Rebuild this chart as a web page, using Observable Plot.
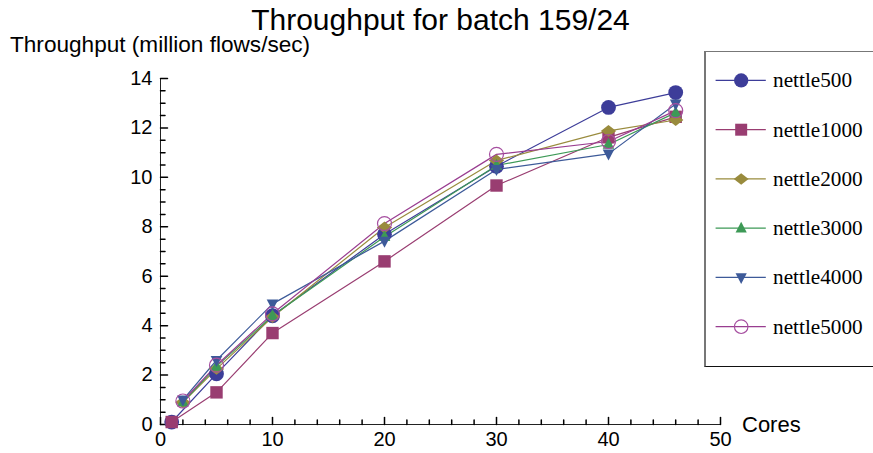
<!DOCTYPE html>
<html><head><meta charset="utf-8">
<script src="https://cdn.jsdelivr.net/npm/d3@7"></script>
<script src="https://cdn.jsdelivr.net/npm/@observablehq/plot@0.6"></script>
<style>
body{margin:0;background:#fff;}
#wrap{position:relative;width:873px;height:453px;overflow:hidden;font-family:"Liberation Sans",Arial,sans-serif;}
.lbl{position:absolute;white-space:nowrap;line-height:1;color:#000;}
#legbox{position:absolute;left:704px;top:51px;width:190px;height:314px;border:1px solid #777;border-left-width:2px;border-bottom-color:#111;}
</style></head><body>
<div id="wrap">
  <div id="chart" style="position:absolute;left:0;top:0"></div>
  <div id="legbox"></div>
  <div id="legend" style="position:absolute;left:704px;top:51px"></div>
  <div class="lbl" style="left:0;width:881px;text-align:center;top:5px;font-size:30px">Throughput for batch 159/24</div>
  <div class="lbl" style="left:10px;top:34px;font-size:22.6px">Throughput (million flows/sec)</div>
  <div class="lbl" style="left:742px;top:414px;font-size:22px">Cores</div>
</div>
<script>
// ---- data ----
const seriesNames = ["nettle500","nettle1000","nettle2000","nettle3000","nettle4000","nettle5000"];
const coresA = [1, 5, 10, 20, 30, 40, 46];
const coresB = [2, 5, 10, 20, 30, 40, 46];
const nettle500  = [0.10, 2.05, 4.40, 7.70, 10.45, 12.83, 13.43];
const nettle1000 = [0.10, 1.30, 3.70, 6.60, 9.67, 11.62, 12.45];
const nettle2000 = [0.90, 2.25, 4.35, 7.97, 10.68, 11.88, 12.32];
const nettle3000 = [0.90, 2.35, 4.40, 7.60, 10.48, 11.33, 12.62];
const nettle4000 = [1.00, 2.60, 4.88, 7.42, 10.32, 10.95, 12.97];
const nettle5000 = [0.95, 2.40, 4.48, 8.13, 10.93, 11.45, 12.70];
const xTickLabels = [0, 10, 20, 30, 40, 50];
const yTickLabels = [0, 2, 4, 6, 8, 10, 12, 14];

// ---- styles ----
const seriesX = [coresA, coresA, coresB, coresB, coresB, coresB];
const seriesY = [nettle500, nettle1000, nettle2000, nettle3000, nettle4000, nettle5000];
const colors = ["#3d3d99", "#993d71", "#998b3d", "#3d9956", "#3d5a99", "#993d90"];

const R = s => Math.sqrt(s / Math.PI);
const diamondWide = {draw(c, s){const r=R(s); c.moveTo(0,-0.85*r); c.lineTo(1.1*r,0); c.lineTo(0,0.85*r); c.lineTo(-1.1*r,0); c.closePath();}};
const triUp = {draw(c, s){const r=R(s); c.moveTo(0,-1.15*r); c.lineTo(r,0.75*r); c.lineTo(-r,0.75*r); c.closePath();}};
const triDown = {draw(c, s){const r=R(s); c.moveTo(0,1.15*r); c.lineTo(r,-0.75*r); c.lineTo(-r,-0.75*r); c.closePath();}};
const symbols = ["circle", "square", diamondWide, triUp, triDown, "circle"];
const sizes = [7.4, 7, 7, 5.8, 5.8, 7];
const fills = [colors[0], colors[1], colors[2], colors[3], colors[4], "none"];
const strokes = ["none", "none", "none", "none", "none", "#a64fa0"];

const rows = seriesNames.flatMap((name, i) => seriesX[i].map((c, j) => ({series: name, cores: c, tp: seriesY[i][j]})));

const tickShape = {draw(c, l){ c.moveTo(0,0); c.lineTo(0,-l); }};
const xMinor = d3.range(0, 51, 2).filter(v => v % 10 !== 0);
const yMinor = d3.range(0, 14.01, 0.5).filter(v => v % 2 !== 0);

const chart = Plot.plot({
  width: 873, height: 453,
  marginLeft: 160, marginRight: 153, marginTop: 78, marginBottom: 29,
  x: {domain: [0, 50]},
  y: {domain: [0, 14]},
  style: {fontFamily: "'Liberation Sans', Arial, sans-serif", fontSize: "20px", background: "transparent", overflow: "visible", color: "#000"},
  marks: [
    Plot.ruleY([0], {stroke: "#222"}),
    Plot.ruleX([0], {stroke: "#222"}),
    Plot.vector(xMinor, {x: d => d, frameAnchor: "bottom", length: 4.5, anchor: "start", shape: tickShape, stroke: "#000"}),
    Plot.vector(xTickLabels, {x: d => d, frameAnchor: "bottom", length: 7, anchor: "start", shape: tickShape, stroke: "#000"}),
    Plot.vector(yMinor, {y: d => d, frameAnchor: "left", rotate: 90, length: 4.5, anchor: "start", shape: tickShape, stroke: "#000"}),
    Plot.vector(yTickLabels, {y: d => d, frameAnchor: "left", rotate: 90, length: 7, anchor: "start", shape: tickShape, stroke: "#000"}),
    Plot.axisX({ticks: xTickLabels, tickSize: 0, tickPadding: 7, label: null, fontSize: 20, tickFormat: d => d}),
    Plot.axisY({ticks: yTickLabels, tickSize: 0, tickPadding: 8, label: null, fontSize: 20, tickFormat: d => d}),
    ...seriesNames.map((n, i) => Plot.line(rows.filter(r => r.series === n), {x: "cores", y: "tp", stroke: colors[i], strokeWidth: 1.2})),
    ...seriesNames.map((n, i) => Plot.dot(rows.filter(r => r.series === n), {x: "cores", y: "tp", symbol: symbols[i], r: sizes[i], fill: fills[i], stroke: strokes[i], strokeWidth: 1.2}))
  ]
});
document.getElementById("chart").append(chart);

const legend = Plot.plot({
  width: 175, height: 316, margin: 0,
  x: {domain: [0, 1], range: [12, 64], axis: null},
  y: {type: "point", domain: seriesNames, range: [29, 286], padding: 0, axis: null},
  style: {background: "transparent", overflow: "visible"},
  marks: [
    ...seriesNames.map((n, i) => Plot.ruleY([n], {y: d => d, x1: () => 0, x2: () => 1, stroke: colors[i], strokeWidth: 1.2})),
    ...seriesNames.map((n, i) => Plot.dot([n], {x: () => 0.5, y: d => d, symbol: symbols[i], r: sizes[i], fill: fills[i], stroke: strokes[i], strokeWidth: 1.2})),
    Plot.text(seriesNames, {x: () => 1, y: d => d, text: d => d, dx: 7, textAnchor: "start", fontFamily: "'Liberation Serif', 'Times New Roman', serif", fontSize: 22, fill: "#000"})
  ]
});
document.getElementById("legend").append(legend);
</script>
</body></html>
